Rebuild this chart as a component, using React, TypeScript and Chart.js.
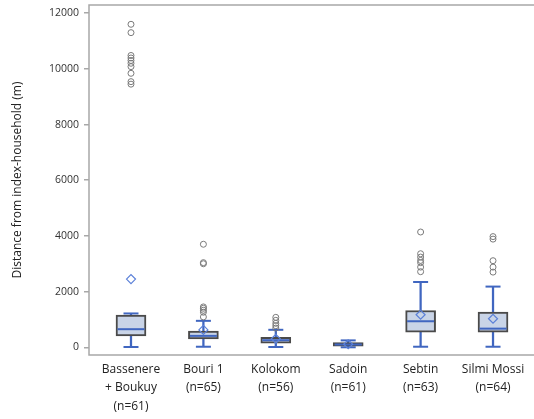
import React, { useEffect, useRef } from 'react';
import { Chart, registerables } from 'chart.js';

Chart.register(...registerables);

const categories: string[][] = [
  ['Bassenere', '+ Boukuy', '(n=61)'],
  ['Bouri 1', '(n=65)'],
  ['Kolokom', '(n=56)'],
  ['Sadoin', '(n=61)'],
  ['Sebtin', '(n=63)'],
  ['Silmi Mossi', '(n=64)'],
];
const whiskerLow = [10, 20, 10, 0, 20, 20];
const q1 = [410, 300, 150, 36, 540, 540];
const median = [650, 410, 255, 100, 935, 670];
const q3 = [1155, 580, 362, 165, 1320, 1265];
const whiskerHigh = [1215, 950, 628, 248, 2345, 2180];
const means = [2450, 625, 305, 110, 1168, 1025];
const outliers: number[][] = [
  [11600, 11300, 10480, 10390, 10300, 10200, 10080, 9840, 9540, 9450],
  [3700, 3040, 3000, 1450, 1400, 1330, 1260, 1090],
  [1075, 968, 860, 776, 690],
  [],
  [4140, 3360, 3240, 3120, 3040, 2880, 2715],
  [3975, 3885, 3110, 2880, 2700],
];
const yTicks = [0, 2000, 4000, 6000, 8000, 10000, 12000];

const BLUE = '#4066c0';
const FONT = "'Open Sans', 'DejaVu Sans', sans-serif";

const framePlugin = {
  id: 'frame',
  beforeDatasetsDraw(chart: any) {
    const { ctx, chartArea } = chart;
    ctx.save();
    ctx.strokeStyle = '#a8a8a8';
    ctx.lineWidth = 1.5;
    ctx.beginPath();
    ctx.moveTo(chartArea.right, chartArea.top);
    ctx.lineTo(chartArea.left, chartArea.top);
    ctx.lineTo(chartArea.left, chartArea.bottom);
    ctx.lineTo(chartArea.right, chartArea.bottom);
    ctx.stroke();
    ctx.restore();
  },
};

export default function App() {
  const ref = useRef<HTMLCanvasElement>(null);
  useEffect(() => {
    document.body.style.margin = '0';
    const idx = categories.map((_, i) => i);
    const chart = new Chart(ref.current as HTMLCanvasElement, {
      type: 'bar',
      data: {
        datasets: [
          {
            type: 'scatter',
            label: 'outliers',
            data: outliers.flatMap((arr, i) => arr.map((v) => ({ x: i, y: v }))),
            pointStyle: 'circle',
            pointRadius: 3,
            borderColor: '#7a7a7a',
            backgroundColor: 'rgba(0,0,0,0)',
            borderWidth: 1,
            order: 0,
          } as any,
          {
            type: 'scatter',
            label: 'mean',
            data: idx.map((i) => ({ x: i, y: means[i] })),
            pointStyle: 'rectRot',
            pointRadius: 4.5,
            borderColor: '#5b80d8',
            backgroundColor: 'rgba(0,0,0,0)',
            borderWidth: 1.2,
            order: 1,
          } as any,
          {
            type: 'scatter',
            label: 'median',
            data: idx.map((i) => ({ x: i, y: median[i] })),
            pointStyle: 'line',
            pointRadius: 13.5,
            borderColor: BLUE,
            borderWidth: 2,
            order: 2,
          } as any,
          {
            type: 'bar',
            label: 'box',
            data: idx.map((i) => ({ x: i, y: [q1[i], q3[i]] })),
            backgroundColor: '#c9d4e7',
            borderColor: '#4a4a4a',
            borderWidth: 2,
            borderSkipped: false,
            barThickness: 30,
            grouped: false,
            order: 3,
          } as any,
          {
            type: 'scatter',
            label: 'caps',
            data: idx.flatMap((i) => [
              { x: i, y: whiskerLow[i] },
              { x: i, y: whiskerHigh[i] },
            ]),
            pointStyle: 'line',
            pointRadius: 7.5,
            borderColor: BLUE,
            borderWidth: 2,
            order: 4,
          } as any,
          {
            type: 'bar',
            label: 'upper whisker',
            data: idx.map((i) => ({ x: i, y: [q3[i], whiskerHigh[i]] })),
            backgroundColor: BLUE,
            borderWidth: 0,
            barThickness: 1.6,
            grouped: false,
            order: 5,
          } as any,
          {
            type: 'bar',
            label: 'lower whisker',
            data: idx.map((i) => ({ x: i, y: [whiskerLow[i], q1[i]] })),
            backgroundColor: BLUE,
            borderWidth: 0,
            barThickness: 1.6,
            grouped: false,
            order: 6,
          } as any,
        ],
      },
      options: {
        animation: false,
        responsive: false,
        maintainAspectRatio: false,
        events: [],
        layout: { autoPadding: false, padding: { top: 5, right: 0, left: 0, bottom: 0 } },
        plugins: {
          legend: { display: false },
          tooltip: { enabled: false },
        },
        scales: {
          x: {
            type: 'linear',
            offset: false,
            min: -0.58,
            max: 5.566,
            afterBuildTicks: (axis: any) => {
              axis.ticks = idx.map((v) => ({ value: v }));
            },
            afterFit: (s: any) => {
              s.height = 64;
              s.paddingLeft = 0;
              s.paddingRight = 0;
            },
            grid: { display: false, drawTicks: false, offset: false },
            border: { display: false },
            ticks: {
              autoSkip: false,
              maxRotation: 0,
              padding: 5,
              color: '#222',
              font: { family: FONT, size: 12, lineHeight: 1.55 },
              callback: (v: any) => categories[v as number] ?? '',
            },
          },
          y: {
            type: 'linear',
            min: -277,
            max: 12293,
            afterBuildTicks: (axis: any) => {
              axis.ticks = yTicks.map((v) => ({ value: v }));
            },
            afterFit: (s: any) => {
              s.width = 89;
              s.paddingTop = 0;
              s.paddingBottom = 0;
            },
            grid: {
              drawOnChartArea: false,
              drawTicks: true,
              tickLength: 5,
              color: '#a8a8a8',
              lineWidth: 1.5,
            },
            border: { display: false },
            ticks: {
              padding: 5,
              color: '#333',
              font: { family: FONT, size: 10.5 },
              callback: (v: any) => String(v),
            },
            title: {
              display: true,
              text: 'Distance from index-household (m)',
              color: '#222',
              font: { family: FONT, size: 12 },
              padding: { top: 10, bottom: 0 },
            },
          },
        },
      } as any,
      plugins: [framePlugin],
    });
    return () => chart.destroy();
  }, []);
  return <canvas ref={ref} width={534} height={419} style={{ display: 'block' }} />;
}
